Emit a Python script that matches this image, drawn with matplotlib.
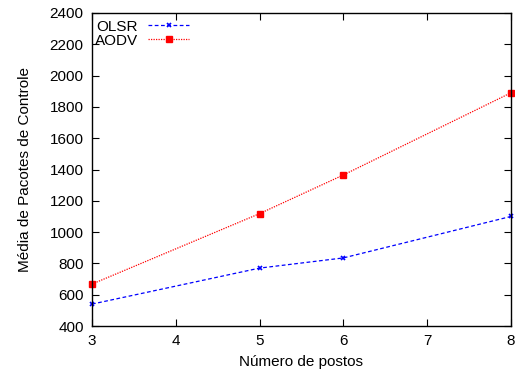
import matplotlib
matplotlib.use("Agg")
import matplotlib.pyplot as plt

plt.rcParams['font.family'] = ['Liberation Sans', 'DejaVu Sans']

postos = [3, 5, 6, 8]
olsr = [540, 770, 835, 1100]
aodv = [668, 1118, 1365, 1890]
xticks = [3, 4, 5, 6, 7, 8]
yticks = list(range(400, 2401, 200))

fig = plt.figure(figsize=(5.15, 3.79), dpi=100)
ax = fig.add_axes([0.1786, 0.1398, 0.8134, 0.8259])

ax.plot(postos, olsr, color='#0000ff', linestyle=(0, (3, 2)), linewidth=0.9,
        marker='x', markersize=3.5, markeredgewidth=1.2, label='OLSR', clip_on=False)
ax.plot(postos, aodv, color='#ff0000', linestyle=(0, (1, 1)), linewidth=0.9,
        marker='s', markersize=3.8, markerfacecolor='#ff0000', markeredgewidth=1.0,
        label='AODV', clip_on=False)

ax.set_xlim(3, 8)
ax.set_ylim(400, 2400)
ax.set_xticks(xticks)
ax.set_yticks(yticks)
ax.tick_params(direction='in', top=True, right=True, length=5, width=0.8,
               labelsize=11, pad=6)
for s in ax.spines.values():
    s.set_linewidth(1.0)

ax.set_xlabel('Número de postos', fontsize=11, labelpad=5)
ax.set_ylabel('Média de Pacotes de Controle', fontsize=11, labelpad=13)

leg = ax.legend(loc='upper left', bbox_to_anchor=(0.0, 0.988),
                markerfirst=False, frameon=False, fontsize=11,
                handlelength=2.7, handletextpad=0.65, labelspacing=0.0,
                borderaxespad=0.1, borderpad=0.1)

fig.savefig('out.png', dpi=100)
